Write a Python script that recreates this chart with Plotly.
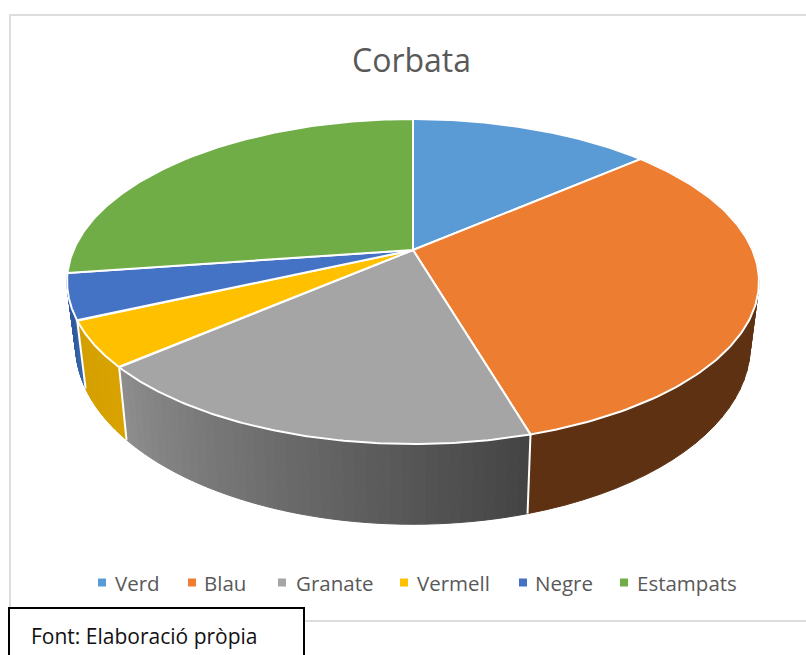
import numpy as np
import plotly.graph_objects as go

# Survey counts behind the slices
categories = ['Verd', 'Blau', 'Granate', 'Vermell', 'Negre', 'Estampats']
values = [3, 7, 4, 1, 1, 6]
colors = ['#5B9BD5', '#ED7D31', '#A5A5A5', '#FFC000', '#4472C4', '#70AD47']

# Colour of the side wall at start and end of each slice (None = hidden at the back)
wall_start = [None, '#5F3113', '#444444', '#D9A400', '#3A66AE', None]
wall_end = [None, '#5F3113', '#8E8E8E', '#D4A000', '#2F5A9C', None]

# Page is drawn in pixels so the pie projection can be fitted to the picture
WIDTH, HEIGHT = 806, 655
CX, CY = 413, 250
A, B, K = 339.4, 156.4, 0.194  # perspective of the tilted disc

# Legend layout, left edge of swatch and text for each entry
legend_swatch_x = [98, 188, 278, 400, 519, 620]
legend_text_x = [113, 202, 294, 415, 533, 635]
LEGEND_Y = 582.5


def project(theta):
    """Top rim position for an angle clockwise from 12 o'clock."""
    u, v = np.sin(theta), -np.cos(theta)
    return A * u / (1 - K * v), B * v / (1 - K * v)


def top_rim(theta):
    x, y = project(theta)
    return CX + x, CY + y


def bottom_rim(theta):
    x, y = project(theta)
    return CX + 0.975 * x, CY + 60.8 + 1.1 * y


def hex_rgb(c):
    return np.array([int(c[i:i + 2], 16) for i in (1, 3, 5)])


edges = np.cumsum([0] + values) / sum(values) * 2 * np.pi

fig = go.Figure()

# Side walls first so the top of the pie covers them
for i, name in enumerate(categories):
    if wall_start[i] is None:
        continue
    steps = np.linspace(edges[i], edges[i + 1], 41)
    c0, c1 = hex_rgb(wall_start[i]), hex_rgb(wall_end[i])
    for j in range(40):
        pair = steps[j:j + 2]
        tx, ty = top_rim(pair)
        bx, by = bottom_rim(pair)
        rgb = (c0 + (c1 - c0) * (j + 0.5) / 40).astype(int)
        col = f'rgb({rgb[0]},{rgb[1]},{rgb[2]})'
        fig.add_trace(go.Scatter(
            x=[tx[0], tx[1], bx[1], bx[0], tx[0]],
            y=[ty[0], ty[1], by[1], by[0], ty[0]],
            mode='lines', fill='toself', fillcolor=col,
            line=dict(color=col, width=1),
            hoverinfo='skip', showlegend=False,
        ))

# White edges between the walls
for i in range(2, 5):
    tx, ty = top_rim(edges[i])
    bx, by = bottom_rim(edges[i])
    fig.add_trace(go.Scatter(
        x=[tx, bx], y=[ty, by], mode='lines',
        line=dict(color='white', width=2),
        hoverinfo='skip', showlegend=False,
    ))

# Top face of each slice
for i, name in enumerate(categories):
    steps = np.linspace(edges[i], edges[i + 1], 120)
    x, y = top_rim(steps)
    fig.add_trace(go.Scatter(
        x=[CX, *x, CX], y=[CY, *y, CY],
        mode='lines', fill='toself', fillcolor=colors[i],
        line=dict(color='white', width=2),
        name=name, hoverinfo='name', showlegend=False,
    ))

shapes = [
    # Chart frame, open on the right
    dict(type='rect', xref='x', yref='y', x0=10, y0=15, x1=820, y1=621,
         line=dict(color='#DDDDDD', width=2), layer='below'),
    # Source box
    dict(type='rect', xref='x', yref='y', x0=9, y0=608, x1=304, y1=670,
         line=dict(color='black', width=2), fillcolor='white'),
]
annotations = [
    dict(text='Font: Elaboració pròpia', xref='x', yref='y', x=29, y=636,
         xanchor='left', yanchor='middle', showarrow=False,
         font=dict(size=21, color='#111111')),
]

# Legend placed by hand, the built-in one keeps too wide a gap after the swatch
for i, name in enumerate(categories):
    shapes.append(dict(
        type='rect', xref='x', yref='y',
        x0=legend_swatch_x[i], x1=legend_swatch_x[i] + 8,
        y0=LEGEND_Y - 4, y1=LEGEND_Y + 4,
        fillcolor=colors[i], line=dict(width=0),
    ))
    annotations.append(dict(
        text=name, xref='x', yref='y', x=legend_text_x[i], y=LEGEND_Y,
        xanchor='left', yanchor='middle', showarrow=False,
        font=dict(size=20.5, color='#595959'),
    ))

fig.update_layout(
    width=WIDTH,
    height=HEIGHT,
    margin=dict(l=0, r=0, t=0, b=0),
    paper_bgcolor='white',
    plot_bgcolor='white',
    font=dict(family='Open Sans'),
    showlegend=False,
    title=dict(
        text='Corbata', x=411.5 / WIDTH, y=1 - 60.5 / HEIGHT,
        xanchor='center', yanchor='middle',
        font=dict(size=32, color='#595959'),
    ),
    xaxis=dict(range=[0, WIDTH], visible=False, fixedrange=True),
    yaxis=dict(range=[HEIGHT, 0], visible=False, fixedrange=True),
    shapes=shapes,
    annotations=annotations,
)

fig.write_html('out.html', config={'displayModeBar': False},
               post_script="document.body.style.margin='0';")
